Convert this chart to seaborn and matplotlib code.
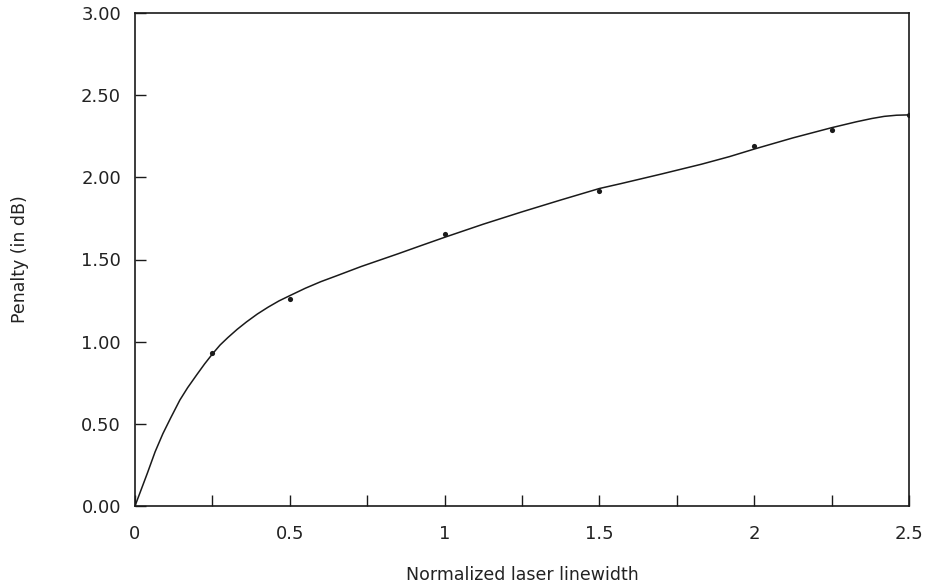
import matplotlib
matplotlib.use("Agg")
import matplotlib.pyplot as plt
import seaborn as sns
import pandas as pd
from matplotlib.ticker import MultipleLocator, FixedLocator

# measured points
pt_x = [0.25, 0.5, 1.0, 1.5, 2.0, 2.25, 2.5]
pt_y = [0.93, 1.26, 1.655, 1.915, 2.19, 2.29, 2.38]

# fitted curve
curve_x = [0.0, 0.02, 0.04, 0.065, 0.09, 0.115, 0.145, 0.17, 0.2, 0.225, 0.25, 0.275, 0.3,
           0.33, 0.36, 0.395, 0.43, 0.465, 0.5, 0.55, 0.6, 0.65, 0.73, 0.85, 0.92, 1.0,
           1.125, 1.25, 1.375, 1.5, 1.57, 1.7, 1.83, 1.92, 2.0, 2.125, 2.25, 2.33, 2.38,
           2.42, 2.46, 2.5]
curve_y = [0.0, 0.10, 0.20, 0.33, 0.44, 0.535, 0.645, 0.72, 0.80, 0.865, 0.925, 0.98, 1.025,
           1.075, 1.12, 1.168, 1.21, 1.248, 1.28, 1.325, 1.365, 1.40, 1.457, 1.535, 1.582, 1.635,
           1.715, 1.79, 1.862, 1.932, 1.962, 2.02, 2.08, 2.126, 2.172, 2.24, 2.302, 2.338, 2.358,
           2.371, 2.378, 2.38]

x_ticks = [0, 0.5, 1, 1.5, 2, 2.5]
x_ticklabels = ["0", "0.5", "1", "1.5", "2", "2.5"]
y_ticks = [0.0, 0.5, 1.0, 1.5, 2.0, 2.5, 3.0]
y_ticklabels = ["0.00", "0.50", "1.00", "1.50", "2.00", "2.50", "3.00"]

sns.set_theme(style="ticks")
plt.rcParams['font.family'] = ['DejaVu Sans']

fig = plt.figure(figsize=(9.37, 5.86), dpi=100)
ax = fig.add_axes([135/937, 1-506/586, (909-135)/937, (506-13)/586])

ink = "#1a1a1a"
curve_df = pd.DataFrame({"x": curve_x, "y": curve_y})
pts_df = pd.DataFrame({"x": pt_x, "y": pt_y})
sns.lineplot(data=curve_df, x="x", y="y", ax=ax, color=ink, linewidth=1.1, sort=False)
sns.scatterplot(data=pts_df, x="x", y="y", ax=ax, color=ink, s=14, linewidth=0, zorder=5)

ax.set_xlim(0, 2.5)
ax.set_ylim(0, 3.0)
ax.xaxis.set_major_locator(FixedLocator(x_ticks))
ax.set_xticklabels(x_ticklabels)
ax.xaxis.set_minor_locator(MultipleLocator(0.25))
ax.yaxis.set_major_locator(FixedLocator(y_ticks))
ax.set_yticklabels(y_ticklabels)

ax.tick_params(axis="both", which="both", direction="in", length=8, width=1.0,
               color=ink, labelcolor="#222222", labelsize=13)
ax.tick_params(axis="x", which="both", pad=14, top=False)
ax.tick_params(axis="y", which="both", pad=10, right=False)

for sp in ax.spines.values():
    sp.set_visible(True)
    sp.set_color(ink)
    sp.set_linewidth(1.2)

ax.set_xlabel("Normalized laser linewidth", fontsize=12.5, color="#222222")
ax.set_ylabel("Penalty (in dB)", fontsize=12.5, color="#222222")
ax.xaxis.set_label_coords(0.5, -0.122)
ax.yaxis.set_label_coords(-0.137, 0.5)

fig.savefig("out.png", dpi=100)
